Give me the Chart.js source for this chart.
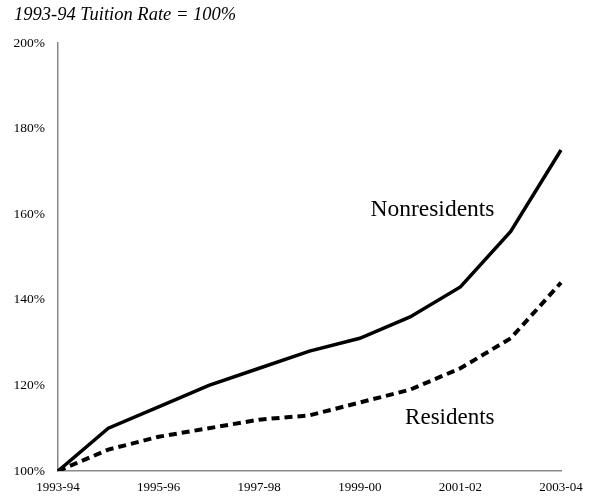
<!DOCTYPE html>
<html>
<head>
<meta charset="utf-8">
<script src="https://cdn.jsdelivr.net/npm/chart.js@4.4.0/dist/chart.umd.min.js"></script>
<style>
html,body{margin:0;padding:0;background:#fff;}
#wrap{width:595px;height:496px;position:relative;}
</style>
</head>
<body>
<div id="wrap"><canvas id="c" width="595" height="496"></canvas></div>
<script>
const categories = ["1993-94","1994-95","1995-96","1996-97","1997-98","1998-99","1999-00","2000-01","2001-02","2002-03","2003-04"];
const nonresidents = [100, 110, 115, 120, 124, 128, 131, 136, 143, 156, 175];
const residents = [100, 105, 108, 110, 112, 113, 116, 119, 124, 131, 144];
const yTicks = [100, 120, 140, 160, 180, 200];
const titleText = "1993-94 Tuition Rate = 100%";
const seriesLabels = ["Nonresidents", "Residents"];

const SERIF = '"Liberation Serif", "Times New Roman", serif';

const annotate = {
  id: 'annotate',
  afterDraw(chart) {
    const ctx = chart.ctx;
    const xs = chart.scales.x, ys = chart.scales.y;
    ctx.save();
    ctx.fillStyle = '#000';
    ctx.font = 'italic 18.5px ' + SERIF;
    ctx.textAlign = 'left';
    ctx.textBaseline = 'middle';
    ctx.fillText(titleText, 14, 15);
    ctx.font = '23.5px ' + SERIF;
    ctx.textAlign = 'center';
    ctx.fillText(seriesLabels[0], xs.getPixelForValue(7.445), ys.getPixelForValue(161.1));
    ctx.font = '23px ' + SERIF;
    ctx.fillText(seriesLabels[1], xs.getPixelForValue(7.79), ys.getPixelForValue(112.5));
    ctx.restore();
  }
};

new Chart(document.getElementById('c'), {
  type: 'line',
  data: {
    labels: categories,
    datasets: [
      { label: seriesLabels[0], data: nonresidents, borderColor: '#000', borderWidth: 3.5, pointRadius: 0, tension: 0, fill: false },
      { label: seriesLabels[1], data: residents, borderColor: '#000', borderWidth: 4, borderDash: [8, 5], pointRadius: 0, tension: 0, fill: false }
    ]
  },
  options: {
    responsive: false,
    animation: false,
    devicePixelRatio: 1,
    layout: { padding: { top: 43, right: 34, left: 0, bottom: 0 } },
    plugins: { legend: { display: false }, tooltip: { enabled: false }, title: { display: false } },
    scales: {
      x: {
        type: 'category',
        offset: false,
        grid: { display: false, drawTicks: false },
        border: { display: true, color: '#888', width: 1.5 },
        ticks: {
          autoSkip: false, maxRotation: 0, minRotation: 0, padding: 9,
          color: '#000', font: { family: SERIF, size: 13 },
          callback: function(v, i) { return i % 2 === 0 ? categories[i] : ''; }
        },
        afterFit(s) { s.height = 25; }
      },
      y: {
        min: 100, max: 200,
        afterBuildTicks(s) { s.ticks = yTicks.map(v => ({ value: v })); },
        grid: { display: false, drawTicks: false },
        border: { display: true, color: '#888', width: 1.5 },
        ticks: {
          padding: 13, color: '#000', font: { family: SERIF, size: 13.5 },
          callback: v => v + '%'
        },
        afterFit(s) { s.width = 58; }
      }
    }
  },
  plugins: [annotate]
});
</script>
</body>
</html>
